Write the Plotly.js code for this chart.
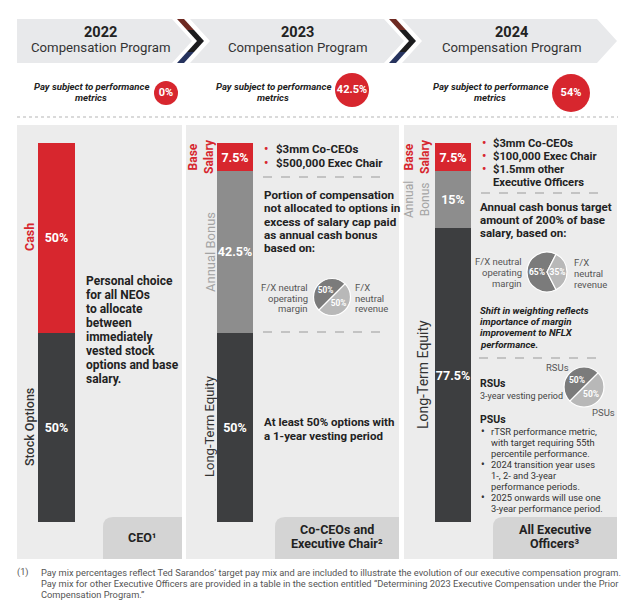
<!DOCTYPE html>
<html>
<head>
<meta charset="utf-8">
<script src="https://cdn.plot.ly/plotly-3.0.1.min.js"></script>
<style>html,body{margin:0;padding:0;background:#fff;}#chart{width:640px;height:603px;}</style>
</head>
<body>
<div id="chart"></div>
<script>
// ---------------- DATA ----------------
const programYears = ['2022', '2023', '2024'];
const programSubtitle = 'Compensation Program';
const payAtRisk = [0, 42.5, 54];
const groupLabels = ['CEO¹', 'Co-CEOs and<br>Executive Chair²', 'All Executive<br>Officers³'];
const equityPct = [50, 50, 77.5];   // Stock Options / Long-Term Equity
const bonusPct = [0, 42.5, 15];     // Annual Bonus
const cashPct = [50, 7.5, 7.5];     // Cash / Base Salary
const bonusMetricLabels = ['F/X neutral operating margin', 'F/X neutral revenue'];
const bonusMix2023 = [50, 50];
const bonusMix2024 = [65, 35];
const equityMixLabels = ['RSUs', 'PSUs'];
const equityMix2024 = [50, 50];

// ---------------- LAYOUT CONSTANTS ----------------
const W = 640, H = 603;
const FONT = 'Roboto, "Open Sans", sans-serif';
const RED = '#d7262e', DARK = '#3d3e40', MID = '#8d8d8d', TXT = '#222';
const PANEL = '#ececec', BOX = '#d4d4d4';
const barX = [56.5, 235, 453];
const barW = [37, 36, 36];
const barTop = 143, barBottom = 522;
const payX = [166, 352, 571], payY = [93, 90, 93], paySize = [24, 34, 38];

const shapes = [];
const ann = [];

function rect(x0, y0, x1, y1, color, layer) {
  shapes.push({type: 'rect', xref: 'x', yref: 'y', x0, y0, x1, y1, fillcolor: color, line: {width: 0}, layer: layer || 'below'});
}
function path(p, color, layer) {
  shapes.push({type: 'path', xref: 'x', yref: 'y', path: p, fillcolor: color, line: {width: 0}, layer: layer || 'below'});
}
function hline(x0, x1, y, color, dash, width) {
  shapes.push({type: 'line', xref: 'x', yref: 'y', x0, x1, y0: y, y1: y, line: {color, dash, width: width || 1}, layer: 'below'});
}
function T(text, x, y, size, color, o) {
  o = o || {};
  ann.push({
    text, x, y, xref: 'x', yref: 'y', showarrow: false,
    xanchor: o.anchor || 'center', yanchor: 'middle', align: o.align || o.anchor || 'center',
    textangle: o.angle || 0, borderpad: 0,
    font: {family: FONT, size, color, weight: o.weight || 400, style: o.style || 'normal'}
  });
}
function lines(arr, x, y0, dy, size, color, o) {
  arr.forEach((s, i) => T(s, x, y0 + i * dy, size, color, o));
}

// header chevrons
path('M17,19 L172,19 L192,41 L172,63 L17,63 Z', '#e8e9eb');
path('M190,19 L384,19 L404,41 L384,63 L190,63 L210,41 Z', '#e8e9eb');
path('M402,19 L597,19 L617,41 L597,63 L402,63 L422,41 Z', '#e8e9eb');
function darkChevron(x) {
  path(`M${x},19 L${x+7},19 L${x+17},30 L${x+10},30 Z`, '#6e2a22');
  path(`M${x+10},30 L${x+17},30 L${x+27},41 L${x+20},41 Z`, '#1c1c1e');
  path(`M${x+20},41 L${x+27},41 L${x+17},52 L${x+10},52 Z`, '#1c1c1e');
  path(`M${x+10},52 L${x+17},52 L${x+7},63 L${x},63 Z`, '#26335e');
}
darkChevron(177);
darkChevron(389);
const headX = [100, 297, 511];
programYears.forEach((y, i) => {
  T(y, headX[i], 32, 14.5, TXT, {weight: 700});
  T(programSubtitle, headX[i], 47.5, 13.2, '#333');
});

// pay subject text
const payTextX = [91, 273, 490];
payTextX.forEach(x => {
  T('Pay subject to performance', x, 86, 9.6, TXT, {weight: 700, style: 'italic'});
  T('metrics', x, 97, 9.6, TXT, {weight: 700, style: 'italic'});
});

// dotted separator
hline(17, 618, 117, '#b5b5b5', 'dot', 1);

// panels
rect(17, 125, 182, 559, PANEL);
rect(186, 125, 399, 559, PANEL);
rect(404, 125, 617, 559, PANEL);

// bottom label boxes (rounded top-left corner)
function labelBox(x0, x1, y0, y1) {
  const r = 10;
  path(`M${x0},${y1} L${x0},${y0 + r} Q${x0},${y0} ${x0 + r},${y0} L${x1},${y0} L${x1},${y1} Z`, BOX);
}
labelBox(103, 182, 517, 559);
labelBox(275, 399, 517, 559);
labelBox(493, 617, 517, 559);
T(groupLabels[0], 142, 537.5, 12.5, TXT, {weight: 700});
lines(groupLabels[1].split('<br>'), 337, 529.5, 14, 12.5, TXT, {weight: 700});
lines(groupLabels[2].split('<br>'), 555, 529.5, 14, 12.5, TXT, {weight: 700});

// rotated segment labels
T('Cash', 29, 237, 12.5, RED, {angle: -90, weight: 700});
T('Stock Options', 29, 427, 12.5, '#333', {angle: -90, weight: 500});
T('Base<br>Salary', 201, 157, 12, RED, {angle: -90, weight: 700});
T('Annual Bonus', 210, 252, 13, '#a3a3a3', {angle: -90});
T('Long-Term Equity', 209, 427, 13, '#333', {angle: -90});
T('Base<br>Salary', 417, 157, 12, RED, {angle: -90, weight: 700});
T('Annual<br>Bonus', 417, 200, 12, '#a3a3a3', {angle: -90});
T('Long-Term Equity', 423, 375, 14, '#333', {angle: -90});

// panel 1 text
lines(['Personal choice', 'for all NEOs', 'to allocate', 'between', 'immediately', 'vested stock', 'options and base', 'salary.'],
  85, 281, 14, 12, TXT, {anchor: 'left', weight: 700});

// panel 2 text
[149, 163].forEach(y => T('•', 266, y, 12, RED, {weight: 700}));
lines(['$3mm Co-CEOs', '$500,000 Exec Chair'], 275, 149, 14, 11.5, TXT, {anchor: 'left', weight: 700});
hline(263, 385, 177, '#9a9a9a', 'dash', 1);
lines(['Portion of compensation', 'not allocated to options in', 'excess of salary cap paid', 'as annual cash bonus', 'based on:'],
  263, 195, 13.3, 11.7, TXT, {anchor: 'left', weight: 700});
lines(['F/X neutral', 'operating', 'margin'], 309, 287.5, 10.6, 9.5, '#555', {anchor: 'right'});
lines(['F/X', 'neutral', 'revenue'], 354, 287.5, 10.6, 9.5, '#555', {anchor: 'left'});
hline(263, 385, 332, '#9a9a9a', 'dash', 1);
lines(['At least 50% options with', 'a 1-year vesting period'], 263, 422, 13.5, 11.5, TXT, {anchor: 'left', weight: 700});

// panel 3 text
[143, 156, 169].forEach(y => T('•', 484, y, 12, RED, {weight: 700}));
lines(['$3mm Co-CEOs', '$100,000 Exec Chair', '$1.5mm other', 'Executive Officers'], 492, 143, 13, 11.2, TXT, {anchor: 'left', weight: 700});
hline(481, 605, 193, '#9a9a9a', 'dash', 1);
lines(['Annual cash bonus target', 'amount of 200% of base', 'salary, based on:'], 479, 207, 13.2, 11.5, TXT, {anchor: 'left', weight: 700});
lines(['F/X neutral', 'operating', 'margin'], 523, 261.5, 11, 9.5, '#555', {anchor: 'right'});
lines(['F/X', 'neutral', 'revenue'], 573, 262.5, 11, 9.5, '#555', {anchor: 'left'});
lines(['Shift in weighting reflects', 'importance of margin', 'improvement to NFLX', 'performance.'], 479, 310, 11.4, 9.7, TXT, {anchor: 'left', weight: 700, style: 'italic'});
hline(479, 602, 358, '#9a9a9a', 'dash', 1);
T(equityMixLabels[0], 557, 367, 9.5, '#555');
T(equityMixLabels[1], 603, 412, 9.5, '#555');
T('RSUs', 479, 383, 10.5, TXT, {anchor: 'left', weight: 700});
T('3-year vesting period', 479, 396, 9, '#444', {anchor: 'left'});
T('PSUs', 479, 419, 10.5, TXT, {anchor: 'left', weight: 700});
[431, 464, 497].forEach(y => T('•', 483, y, 10, '#333', {weight: 700}));
lines(['rTSR performance metric,', 'with target requiring 55th', 'percentile performance.', '2024 transition year uses',
  '1-, 2- and 3-year', 'performance periods.', '2025 onwards will use one', '3-year performance period.'],
  490, 431, 11, 9.3, '#333', {anchor: 'left'});

// footnote
T('(1)', 16, 572, 9.2, '#555', {anchor: 'left'});
lines(['Pay mix percentages reflect Ted Sarandos’ target pay mix and are included to illustrate the evolution of our executive compensation program.',
  'Pay mix for other Executive Officers are provided in a table in the section entitled “Determining 2023 Executive Compensation under the Prior',
  'Compensation Program.”'], 40, 572, 11, 9.3, '#555', {anchor: 'left'});

// ---------------- TRACES ----------------
const pct = v => v > 0 ? v + '%' : '';
function barTrace(vals, color) {
  return {
    type: 'bar', x: barX, y: vals, width: barW, xaxis: 'x', yaxis: 'y2',
    marker: {color, line: {width: 0}}, text: vals.map(pct), textposition: 'inside',
    insidetextanchor: 'middle', textangle: 0, constraintext: 'none',
    textfont: {family: FONT, size: 12.5, color: '#fff', weight: 700},
    hoverinfo: 'skip', showlegend: false
  };
}
function dom(cx, cy, r) {
  return {x: [(cx - r) / W, (cx + r) / W], y: [(H - cy - r) / H, (H - cy + r) / H]};
}
function pieTrace(vals, labels, cx, cy, r, rotation) {
  return {
    type: 'pie', values: vals, labels, domain: dom(cx, cy, r), sort: false, direction: 'clockwise',
    rotation, marker: {colors: ['#7b7b7b', '#b8b8b8'], line: {color: '#fff', width: 1.2}},
    textinfo: 'text', text: vals.map(v => v + '%'), textposition: 'inside', insidetextorientation: 'horizontal',
    textfont: {family: FONT, size: 8.5, color: '#fff', weight: 700},
    hoverinfo: 'skip', showlegend: false
  };
}

const traces = [
  barTrace(equityPct, DARK),
  barTrace(bonusPct, MID),
  barTrace(cashPct, RED),
  {
    type: 'scatter', mode: 'markers+text', x: payX, y: payY, xaxis: 'x', yaxis: 'y',
    marker: {size: paySize, color: RED, opacity: 1, line: {width: 0}},
    text: payAtRisk.map(v => v + '%'), textposition: 'middle center',
    textfont: {family: FONT, size: 11, color: '#fff', weight: 700},
    cliponaxis: false, hoverinfo: 'skip', showlegend: false
  },
  pieTrace(bonusMix2023, bonusMetricLabels, 332, 297, 18.5, 225),
  pieTrace(bonusMix2024, bonusMetricLabels, 547, 272, 20, 153),
  pieTrace(equityMix2024, equityMixLabels, 584, 387, 20, 225)
];

const layout = {
  width: W, height: H, margin: {l: 0, r: 0, t: 0, b: 0},
  paper_bgcolor: '#fff', plot_bgcolor: 'rgba(0,0,0,0)',
  barmode: 'stack', bargap: 0,
  xaxis: {range: [0, W], visible: false, fixedrange: true, domain: [0, 1]},
  yaxis: {range: [H, 0], visible: false, fixedrange: true, domain: [0, 1]},
  yaxis2: {range: [0, 100], visible: false, fixedrange: true, anchor: 'x',
    domain: [(H - barBottom) / H, (H - barTop) / H]},
  shapes, annotations: ann, showlegend: false
};

Plotly.newPlot('chart', traces, layout, {staticPlot: true, displayModeBar: false});
</script>
</body>
</html>
